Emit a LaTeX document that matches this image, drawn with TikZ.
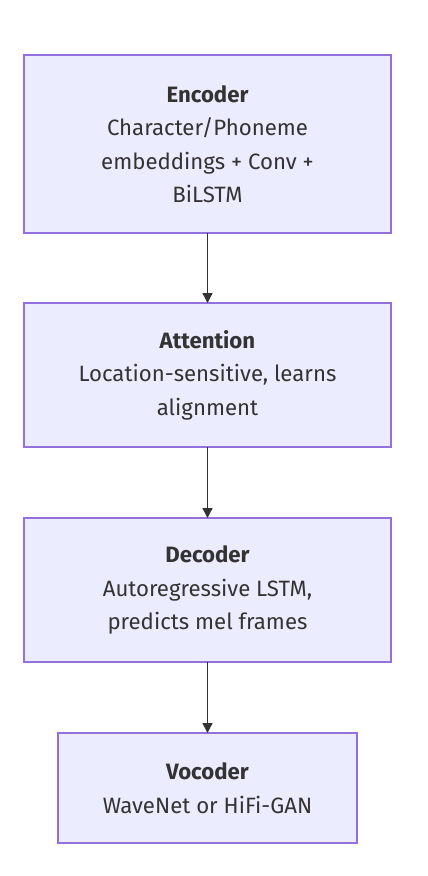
\documentclass[tikz,border=0pt]{standalone}
\usepackage{fontspec}
\setmainfont{Fira Sans}
\usetikzlibrary{arrows.meta}
\definecolor{boxfill}{HTML}{ECECFF}
\definecolor{boxline}{HTML}{9370DB}
\definecolor{inkgray}{HTML}{333333}
\begin{document}
\begin{tikzpicture}[x=1pt,y=-1pt,inner sep=0pt,outer sep=0pt,
stage/.style={draw=boxline,fill=boxfill,rectangle,line width=1.3pt,text=inkgray,align=center,
  font=\fontsize{22.2}{33.5}\selectfont,minimum width=367pt},
flow/.style={draw=inkgray,line width=1.4pt,-{Triangle[length=10pt,width=10pt]}}]

\useasboundingbox (0,0) rectangle (428,876);
\draw (207.5,144) node[stage,minimum height=178pt] (enc) {\textbf{Encoder}\\Character/Phoneme\\embeddings + Conv +\\BiLSTM};
\draw (207.5,375) node[stage,minimum height=144pt] (att) {\textbf{Attention}\\Location-sensitive, learns\\alignment};
\draw (207.5,590) node[stage,minimum height=144pt] (dec) {\textbf{Decoder}\\Autoregressive LSTM,\\predicts mel frames};
\draw (207.5,788) node[stage,minimum height=110pt,minimum width=299pt] (voc) {\textbf{Vocoder}\\WaveNet or HiFi-GAN};
\draw[flow] (enc.south) -- (att.north);
\draw[flow] (att.south) -- (dec.north);
\draw[flow] (dec.south) -- (voc.north);
\end{tikzpicture}
\end{document}
